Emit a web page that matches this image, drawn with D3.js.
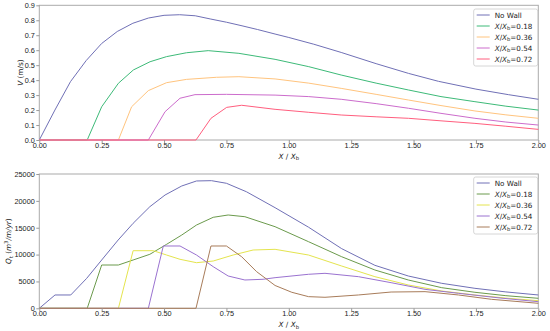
<!DOCTYPE html>
<html>
<head>
<meta charset="utf-8">
<script src="https://cdn.jsdelivr.net/npm/d3@7"></script>
<style>
  body { margin: 0; background: #fff; }
  svg { font-family: "DejaVu Sans", sans-serif; }
  .axis text { font-size: 7.3px; fill: #222; }
  .axis path, .axis line { stroke: #999; }
</style>
</head>
<body>
<div id="chart"></div>
<script>
// ---- data ----
const xTicks = [0, 0.25, 0.5, 0.75, 1.0, 1.25, 1.5, 1.75, 2.0];
const vTicks = [0, 0.1, 0.2, 0.3, 0.4, 0.5, 0.6, 0.7, 0.8, 0.9];
const qTicks = [0, 5000, 10000, 15000, 20000, 25000];
const legendLabels = ["No Wall", "0.18", "0.36", "0.54", "0.72"];

// velocity panel
const vNoWallX = [0, 0.0625, 0.125, 0.1875, 0.25, 0.3125, 0.375, 0.4375, 0.5, 0.5625, 0.625, 0.6875, 0.75, 0.8125, 0.875, 0.945, 1.0, 1.1, 1.21, 1.35, 1.48, 1.6, 1.75, 1.88, 2.0];
const vNoWallY = [0, 0.2, 0.39, 0.53, 0.645, 0.725, 0.78, 0.815, 0.833, 0.837, 0.83, 0.808, 0.787, 0.763, 0.738, 0.708, 0.685, 0.64, 0.585, 0.51, 0.445, 0.392, 0.34, 0.303, 0.272];
const v018X = [0, 0.192, 0.25, 0.317, 0.377, 0.444, 0.51, 0.59, 0.677, 0.80, 0.945, 1.08, 1.21, 1.35, 1.48, 1.61, 1.746, 1.87, 2.0];
const v018Y = [0, 0, 0.222, 0.379, 0.468, 0.523, 0.557, 0.583, 0.597, 0.579, 0.539, 0.49, 0.434, 0.38, 0.334, 0.29, 0.256, 0.226, 0.20];
const v036X = [0, 0.317, 0.37, 0.437, 0.51, 0.59, 0.71, 0.80, 0.945, 1.08, 1.21, 1.35, 1.48, 1.61, 1.746, 1.87, 2.0];
const v036Y = [0, 0, 0.222, 0.33, 0.383, 0.405, 0.419, 0.423, 0.408, 0.38, 0.345, 0.305, 0.267, 0.23, 0.194, 0.168, 0.145];
const v054X = [0, 0.437, 0.504, 0.564, 0.624, 0.75, 0.945, 1.08, 1.21, 1.35, 1.48, 1.61, 1.746, 1.87, 2.0];
const v054Y = [0, 0, 0.189, 0.279, 0.303, 0.305, 0.30, 0.29, 0.272, 0.243, 0.212, 0.178, 0.145, 0.12, 0.10];
const v072X = [0, 0.628, 0.688, 0.751, 0.811, 0.945, 1.08, 1.21, 1.35, 1.48, 1.61, 1.746, 1.87, 2.0];
const v072Y = [0, 0, 0.145, 0.218, 0.232, 0.205, 0.185, 0.167, 0.155, 0.145, 0.128, 0.111, 0.092, 0.071];

// transport panel
const qNoWallX = [0, 0.063, 0.126, 0.19, 0.25, 0.316, 0.376, 0.443, 0.504, 0.571, 0.63, 0.69, 0.75, 0.83, 0.945, 1.079, 1.212, 1.345, 1.479, 1.613, 1.746, 1.87, 2.0];
const qNoWallY = [0, 2480, 2480, 5580, 8990, 12710, 15820, 18910, 21090, 22770, 23700, 23760, 23270, 21700, 18730, 15100, 11100, 8000, 6010, 4650, 3720, 3050, 2480];
const q018X = [0, 0.192, 0.25, 0.317, 0.376, 0.443, 0.51, 0.571, 0.63, 0.697, 0.757, 0.824, 0.945, 1.079, 1.212, 1.345, 1.479, 1.613, 1.746, 1.87, 2.0];
const q018Y = [0, 0, 8060, 8060, 8990, 10050, 11900, 13640, 15500, 16940, 17370, 17050, 15190, 12400, 9600, 7130, 5270, 3840, 2980, 2350, 1860];
const q036X = [0, 0.317, 0.376, 0.457, 0.51, 0.564, 0.63, 0.697, 0.777, 0.857, 0.945, 1.079, 1.212, 1.345, 1.479, 1.613, 1.746, 1.87, 2.0];
const q036Y = [0, 0, 10720, 10720, 9920, 9120, 8490, 8800, 9920, 10850, 10980, 9920, 7870, 5890, 4340, 3220, 2480, 1900, 1420];
const q054X = [0, 0.437, 0.497, 0.564, 0.63, 0.697, 0.757, 0.824, 0.897, 0.945, 1.079, 1.145, 1.279, 1.41, 1.546, 1.68, 1.85, 2.0];
const q054Y = [0, 0, 11600, 11600, 9920, 7750, 6010, 5270, 5400, 5700, 6330, 6510, 5890, 4770, 3530, 2790, 1900, 1230];
const q072X = [0, 0.628, 0.688, 0.75, 0.811, 0.871, 0.945, 1.012, 1.079, 1.145, 1.279, 1.41, 1.546, 1.68, 1.813, 2.0];
const q072Y = [0, 0, 11600, 11600, 9600, 6820, 4250, 2980, 2170, 2050, 2480, 3030, 3100, 2480, 1670, 930];

const topColors = ["#7070b6", "#3dba78", "#ffc47e", "#cc6ccc", "#ff5e7e"];
const botColors = ["#7070b6", "#6b9a4c", "#e4e44e", "#9a72d0", "#a87c5a"];

// ---- layout ----
const W = 550, H = 331;
const svg = d3.select("#chart").append("svg")
    .attr("width", W)
    .attr("height", H);

const x = d3.scaleLinear().domain([0, 2]).range([39.3, 538.3]);

const zip = (xs, ys) => xs.map((d, i) => [d, ys[i]]);

const drawPanel = (opts) => {
    const y = d3.scaleLinear().domain(opts.yDomain).range([opts.bottom, opts.top]);

    // frame
    svg.append("rect")
        .attr("x", x(0)).attr("y", opts.top)
        .attr("width", x(2) - x(0)).attr("height", opts.bottom - opts.top)
        .attr("fill", "none").attr("stroke", "#aaa").attr("stroke-width", 1);

    const line = d3.line().x(d => x(d[0])).y(d => y(d[1]));

    opts.series.forEach((s, i) => {
        svg.append("path")
            .datum(zip(s[0], s[1]))
            .attr("fill", "none")
            .attr("stroke", opts.colors[i])
            .attr("stroke-width", 1)
            .attr("stroke-linejoin", "round")
            .attr("d", line);
    });

    const xAxis = d3.axisBottom(x).tickValues(xTicks).tickFormat(d3.format(".2f")).tickSize(3).tickPadding(0).tickSizeOuter(0);
    const gx = svg.append("g").attr("class", "axis")
        .attr("transform", `translate(0,${opts.bottom})`)
        .call(xAxis);
    gx.select(".domain").remove();

    const yAxis = d3.axisLeft(y).tickValues(opts.yTicks).tickFormat(opts.yFormat).tickSize(3).tickPadding(1.5).tickSizeOuter(0);
    const gy = svg.append("g").attr("class", "axis")
        .attr("transform", `translate(${x(0)},0)`)
        .call(yAxis);
    gy.select(".domain").remove();

    // x label
    const xl = svg.append("text")
        .attr("x", (x(0) + x(2)) / 2).attr("y", opts.bottom + 18.5)
        .attr("text-anchor", "middle").attr("font-size", 7.3).attr("fill", "#222");
    xl.append("tspan").attr("font-style", "italic").text("X");
    xl.append("tspan").text(" / ");
    xl.append("tspan").attr("font-style", "italic").text("X");
    xl.append("tspan").attr("font-size", 5.3).attr("dy", 1.8).text("b");

    // y label
    const yl = svg.append("text")
        .attr("transform", `translate(${opts.yLabelX},${(opts.top + opts.bottom) / 2}) rotate(-90)`)
        .attr("text-anchor", "middle").attr("font-size", 7.3).attr("fill", "#222");
    opts.yLabel(yl);

    // legend
    const lg = svg.append("g").attr("transform", `translate(473.7,${opts.legendTop})`);
    lg.append("rect")
        .attr("width", 64).attr("height", 57).attr("rx", 2)
        .attr("fill", "#fff").attr("fill-opacity", 0.85)
        .attr("stroke", "#ccc").attr("stroke-width", 0.8);
    legendLabels.forEach((lab, i) => {
        const yy = 6 + i * 11;
        lg.append("line")
            .attr("x1", 3).attr("x2", 16).attr("y1", yy).attr("y2", yy)
            .attr("stroke", opts.colors[i]).attr("stroke-width", 1);
        const t = lg.append("text")
            .attr("x", 21).attr("y", yy + 2.6)
            .attr("font-size", 7.2).attr("fill", "#222");
        if (i === 0) {
            t.text(lab);
        } else {
            t.append("tspan").attr("font-style", "italic").text("X");
            t.append("tspan").text("/");
            t.append("tspan").attr("font-style", "italic").text("X");
            t.append("tspan").attr("font-size", 5.2).attr("dy", 1.8).text("b");
            t.append("tspan").attr("dy", -1.8).text("=" + lab);
        }
    });
};

drawPanel({
    top: 5.3, bottom: 140, yDomain: [0, 0.9],
    yTicks: vTicks, yFormat: d3.format(".1f"),
    colors: topColors,
    series: [[vNoWallX, vNoWallY], [v018X, v018Y], [v036X, v036Y], [v054X, v054Y], [v072X, v072Y]],
    yLabelX: 23, legendTop: 9,
    yLabel: (t) => {
        t.append("tspan").attr("font-style", "italic").text("V");
        t.append("tspan").text(" (m/s)");
    }
});

drawPanel({
    top: 174, bottom: 308.3, yDomain: [0, 25000],
    yTicks: qTicks, yFormat: d3.format("d"),
    colors: botColors,
    series: [[qNoWallX, qNoWallY], [q018X, q018Y], [q036X, q036Y], [q054X, q054Y], [q072X, q072Y]],
    yLabelX: 11, legendTop: 177,
    yLabel: (t) => {
        t.append("tspan").attr("font-style", "italic").text("Q");
        t.append("tspan").attr("font-size", 5.3).attr("dy", 1.8).text("t");
        t.append("tspan").attr("dy", -1.8).text(" (");
        t.append("tspan").attr("font-style", "italic").text("m");
        t.append("tspan").attr("font-size", 5.3).attr("dy", -3).text("3");
        t.append("tspan").attr("dy", 3).attr("font-style", "italic").text("/m/yr");
        t.append("tspan").text(")");
    }
});
</script>
</body>
</html>
